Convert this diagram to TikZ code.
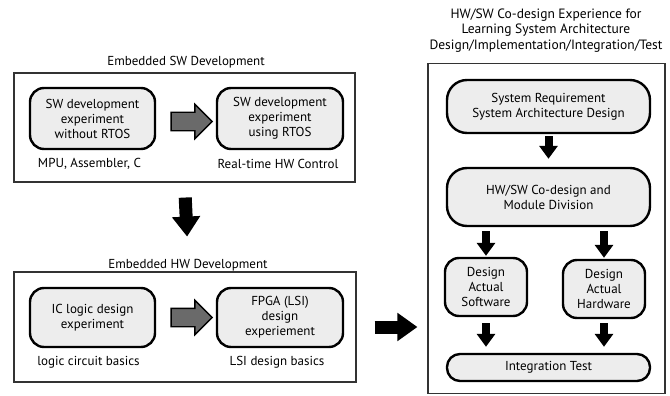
\documentclass[tikz,border=0pt]{standalone}
\usepackage{fontspec}
\setmainfont{PT Sans}
\usetikzlibrary{shapes.arrows,calc,arrows.meta}
\definecolor{boxgray}{HTML}{EDEDED}
\definecolor{arrowgray}{HTML}{6A6A6A}
\tikzset{
  rbox/.style={draw=black, line width=2.4pt, fill=boxgray, rounded corners=14pt,
    align=center, inner sep=2pt, font=\fontsize{13}{15}\selectfont},
  frame/.style={draw=black!80, line width=1.1pt, inner sep=0pt},
  lbl/.style={font=\fontsize{13}{15}\selectfont, align=center},
  grayarrow/.style={single arrow, draw=black, fill=arrowgray, line width=1.4pt,
    minimum height=41pt, inner xsep=0pt, inner ysep=8.5pt, single arrow head extend=8pt},
  bigarrow/.style={line width=13pt, -{Triangle[length=20pt,width=27pt]}},
  smallarrow/.style={line width=8pt, -{Triangle[length=13pt,width=18pt]}},
}
\begin{document}
\begin{tikzpicture}[x=1pt,y=-1pt]
	\useasboundingbox (0,0) rectangle (670,396);
	% embedded SW development
	\node[lbl] (swtitle) at (186,62) {Embedded SW Development};
	\node[frame, minimum width=341pt, minimum height=109pt] (swframe) at (184.5,127.5) {};
	\node[rbox, minimum width=125pt, minimum height=61pt] (swA) at (92.5,118.5)
		{SW development\\experiment\\without RTOS};
	\node[rbox, minimum width=126pt, minimum height=61pt] (swB) at (280,118.5)
		{SW development\\experiment\\using RTOS};
	\node[lbl] (swAlbl) at ($(swA.south)+(-3,14)$) {MPU, Assembler, C};
	\node[lbl] (swBlbl) at ($(swB.south)+(-2,14)$) {Real-time HW Control};
	\node[grayarrow] (swarrow) at ($(swA.east)!0.5!(swB.west)+(1,3)$) {};

	% embedded HW development
	\node[lbl] (hwtitle) at (188,265) {Embedded HW Development};
	\node[frame, minimum width=342pt, minimum height=110pt] (hwframe) at (185,327) {};
	\node[rbox, minimum width=125pt, minimum height=59pt] (hwA) at (92.5,317.5)
		{IC logic design\\experiment};
	\node[rbox, minimum width=126pt, minimum height=59pt] (hwB) at (280,317.5)
		{FPGA (LSI)\\design\\experiement};
	\node[lbl] (hwAlbl) at ($(hwA.south)+(-4,14)$) {logic circuit basics};
	\node[lbl] (hwBlbl) at ($(hwB.south)+(-3,14)$) {LSI design basics};
	\node[grayarrow] (hwarrow) at ($(hwA.east)!0.5!(hwB.west)+(1,0)$) {};

	\draw[bigarrow, shorten <=15pt, shorten >=19pt] (swframe.south) -- (hwtitle.north);

	% HW/SW co-design
	\node[lbl, font=\fontsize{13.5}{15.5}\selectfont] (cdtitle) at (546,30.5)
		{HW/SW Co-design Experience for\\Learning System Architecture\\Design/Implementation/Integration/Test};
	\node[frame, minimum width=237pt, minimum height=330pt] (cdframe) at (546.5,228.5) {};
	\node[rbox, rounded corners=20pt, minimum width=203pt, minimum height=53pt] (sysreq) at (548.5,106.5)
		{System Requirement\\System Architecture Design};
	\node[rbox, rounded corners=20pt, minimum width=203pt, minimum height=58pt] (codesign) at (548.5,197)
		{HW/SW Co-design and\\Module Division};
	\node[rbox, minimum width=82pt, minimum height=58pt] (swdesign) at (486,287)
		{Design\\Actual\\Software};
	\node[rbox, minimum width=82pt, minimum height=58pt] (hwdesign) at (604,289)
		{Design\\Actual\\Hardware};
	\node[rbox, rounded corners=13pt, minimum width=203pt, minimum height=27pt] (integ) at (548.5,367.5)
		{Integration Test};

	\draw[bigarrow, shorten <=18pt, shorten >=10pt] (hwframe.east) -- (hwframe.east -| cdframe.west);
	\draw[smallarrow, shorten <=2pt, shorten >=8pt] (sysreq) -- (codesign);
	\draw[smallarrow, shorten <=4pt, shorten >=1pt] (codesign.south -| swdesign.north) -- (swdesign.north);
	\draw[smallarrow, shorten <=4pt, shorten >=1pt] (codesign.south -| hwdesign.north) -- (hwdesign.north);
	\draw[smallarrow, shorten <=6pt, shorten >=6pt] (swdesign.south) -- (swdesign.south |- integ.north);
	\draw[smallarrow, shorten <=4pt, shorten >=6pt] (hwdesign.south) -- (hwdesign.south |- integ.north);
\end{tikzpicture}
\end{document}
